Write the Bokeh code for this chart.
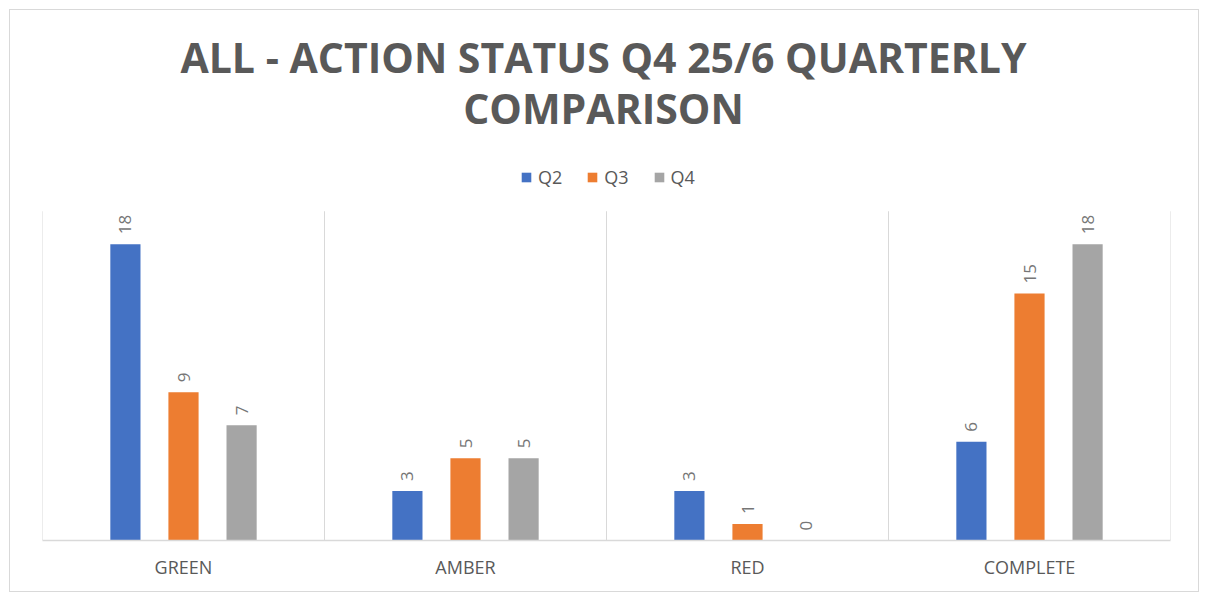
import numpy as np
from bokeh.plotting import figure
from bokeh.models import ColumnDataSource, FixedTicker, Label, Legend, LegendItem
from bokeh.core.properties import value
from bokeh.embed import file_html
from bokeh.resources import INLINE

categories = ["GREEN", "AMBER", "RED", "COMPLETE"]
series_names = ["Q2", "Q3", "Q4"]
q2 = [18, 3, 3, 6]
q3 = [9, 5, 1, 15]
q4 = [7, 5, 0, 18]
colors = ["#4472C4", "#ED7D31", "#A5A5A5"]
title_lines = ["ALL - ACTION STATUS Q4 25/6 QUARTERLY", "COMPARISON"]
y_axis_max = 20

FONT = "Open Sans"
TXT = "#595959"

W, H = 1190, 583
BL, BR, BB = 32, 30, 53
FW = W - 2 - BL - BR
FH = H - 2 - BB
PLOT_H = 328  # pixel height of the value axis (0..max)
y_end = y_axis_max * FH / PLOT_H

p = figure(width=W, height=H, x_range=(0, len(categories)), y_range=(0, y_end),
           output_backend="svg", toolbar_location=None,
           min_border_left=BL, min_border_right=BR, min_border_bottom=BB,
           min_border_top=0)
p.outline_line_color = None
p.styles = {"border": "1px solid #d9d9d9", "margin-left": "9px", "margin-top": "9px",
            "box-sizing": "border-box"}

# category separators
bounds = list(range(len(categories) + 1))
p.segment(x0=bounds, y0=[0] * len(bounds), x1=bounds, y1=[y_axis_max] * len(bounds),
          line_color="#d9d9d9", line_width=1)

offsets = [-0.206, 0.0, 0.206]
bar_w = 0.107
renderers = []
for name, vals, col, off in zip(series_names, [q2, q3, q4], colors, offsets):
    xs = [i + 0.5 + off for i in range(len(categories))]
    src = ColumnDataSource(dict(x=xs, top=vals, lab=[str(v) for v in vals]))
    r = p.vbar(x="x", top="top", width=bar_w, source=src, fill_color=col, line_color=None)
    renderers.append((name, r))
    p.text(x="x", y="top", text="lab", source=src, angle=np.pi / 2,
           text_align="left", text_baseline="middle", y_offset=-10,
           text_font=value(FONT), text_font_size="17px", text_color="#767676")

legend = Legend(items=[LegendItem(label=n, renderers=[r]) for n, r in renderers],
                orientation="horizontal", location=(478, FH - 177),
                glyph_width=12, glyph_height=12, label_standoff=6, spacing=24,
                label_text_font=FONT, label_text_font_size="18px", label_text_color=TXT,
                border_line_color=None, background_fill_alpha=0, padding=4, margin=0)
p.add_layout(legend, "center")

for line, cy in zip(title_lines, [44, 95]):
    p.add_layout(Label(x=FW / 2 - 2, y=FH - cy, x_units="screen", y_units="screen",
                       text=line, text_align="center", text_baseline="middle",
                       text_font=FONT, text_font_size="41px", text_font_style="bold",
                       text_color=TXT))

p.yaxis.visible = False
p.ygrid.visible = False
p.xgrid.visible = False
p.xaxis.ticker = FixedTicker(ticks=[i + 0.5 for i in range(len(categories))])
p.xaxis.major_label_overrides = {i + 0.5: c for i, c in enumerate(categories)}
p.xaxis.axis_line_color = "#d9d9d9"
p.xaxis.axis_line_width = 1.5
p.xaxis.major_tick_line_color = None
p.xaxis.minor_tick_line_color = None
p.xaxis.major_label_text_font = FONT
p.xaxis.major_label_text_font_size = "18px"
p.xaxis.major_label_text_color = TXT
p.xaxis.major_label_standoff = 8

open("out.html", "w").write(file_html(p, INLINE))
